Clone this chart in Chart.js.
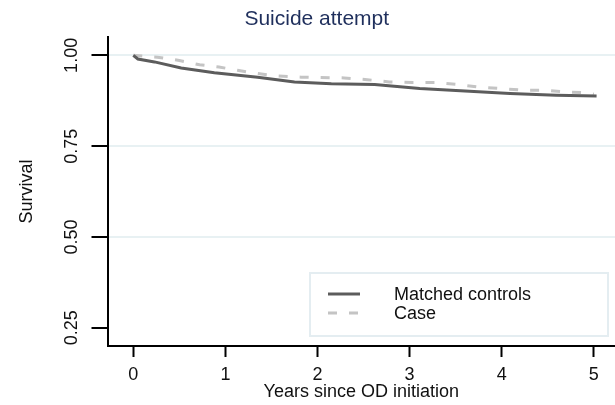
<!DOCTYPE html>
<html>
<head>
<meta charset="utf-8">
<script src="https://cdn.jsdelivr.net/npm/chart.js@4"></script>
<style>
  html, body { margin: 0; padding: 0; background: #fff; }
  #wrap { width: 615px; height: 405px; }
</style>
</head>
<body>
<div id="wrap"><canvas id="km" width="615" height="405"></canvas></div>
<script>
const seriesNames = ["Matched controls", "Case"];

const controlsYears = [0, 0.05, 0.23, 0.52, 0.88, 1.35, 1.75, 2.15, 2.62, 3.11, 3.65, 4.09, 4.59, 5.03];
const controlsSurv = [1.0, 0.99, 0.982, 0.965, 0.952, 0.94, 0.927, 0.922, 0.92, 0.909, 0.901, 0.895, 0.89, 0.888];

const caseYears = [0, 0.26, 0.5, 0.72, 0.93, 1.13, 1.35, 1.57, 1.82, 2.29, 2.54, 2.78, 3.03, 3.29, 3.52, 3.74, 3.98, 4.23, 4.47, 4.7, 4.93, 5.0];
const caseSurv = [1.0, 0.995, 0.986, 0.974, 0.968, 0.959, 0.95, 0.943, 0.94, 0.938, 0.933, 0.927, 0.925, 0.925, 0.92, 0.913, 0.909, 0.904, 0.904, 0.899, 0.897, 0.893];

const xTicks = [0, 1, 2, 3, 4, 5];
const yTicks = [0.25, 0.5, 0.75, 1.0];

const FONT = "'Liberation Sans', Arial, sans-serif";
const toPoints = (xs, ys) => xs.map((x, i) => ({ x: x, y: ys[i] }));

// legend box drawn inside the plot, bottom right
const insideLegend = {
  id: "insideLegend",
  afterDraw(chart) {
    const { ctx, chartArea } = chart;
    const right = chartArea.right - 7;
    const left = right - 298;
    const bottom = chartArea.bottom - 10;
    const top = bottom - 63;
    ctx.save();
    ctx.strokeStyle = "#e4edf1";
    ctx.lineWidth = 2;
    ctx.strokeRect(left, top, right - left, bottom - top);
    ctx.font = "18px " + FONT;
    ctx.fillStyle = "#111";
    ctx.textBaseline = "middle";
    chart.data.datasets.forEach((ds, i) => {
      const y = top + 21 + i * 19;
      ctx.beginPath();
      ctx.strokeStyle = ds.borderColor;
      ctx.lineWidth = ds.borderWidth;
      ctx.setLineDash(ds.borderDash || []);
      ctx.moveTo(left + 18, y);
      ctx.lineTo(left + 50, y);
      ctx.stroke();
      ctx.setLineDash([]);
      ctx.fillText(ds.label, left + 84, y + 1);
    });
    ctx.restore();
  },
};

new Chart(document.getElementById("km"), {
  type: "line",
  data: {
    datasets: [
      {
        label: seriesNames[0],
        data: toPoints(controlsYears, controlsSurv),
        borderColor: "#5c5c5c",
        borderWidth: 3,
        pointRadius: 0,
        tension: 0,
      },
      {
        label: seriesNames[1],
        data: toPoints(caseYears, caseSurv),
        borderColor: "#c4c4c4",
        borderWidth: 3,
        borderDash: [9, 12],
        pointRadius: 0,
        tension: 0,
      },
    ],
  },
  options: {
    responsive: false,
    animation: false,
    layout: { padding: { top: 0, right: 0, left: 18.5, bottom: 4 } },
    plugins: {
      legend: { display: false },
      tooltip: { enabled: false },
      title: {
        display: true,
        text: "Suicide attempt",
        color: "#1f2f5c",
        font: { family: FONT, size: 21, weight: "normal", lineHeight: 1.2 },
        padding: { top: 7, bottom: 5 },
      },
    },
    scales: {
      x: {
        type: "linear",
        min: -0.28,
        max: 5.23,
        afterBuildTicks: (axis) => {
          axis.ticks = xTicks.map((v) => ({ value: v }));
        },
        border: { display: true, color: "#000", width: 2 },
        grid: {
          drawOnChartArea: false,
          drawTicks: true,
          tickLength: 11,
          tickColor: "#000",
          tickWidth: 2,
        },
        ticks: {
          color: "#111",
          font: { family: FONT, size: 18, lineHeight: 1 },
          padding: 9,
          maxRotation: 0,
        },
        title: {
          display: true,
          text: "Years since OD initiation",
          color: "#111",
          font: { family: FONT, size: 18, lineHeight: 1 },
          padding: { top: -10, bottom: 0 },
        },
      },
      y: {
        type: "linear",
        min: 0.2,
        max: 1.05,
        afterBuildTicks: (axis) => {
          axis.ticks = yTicks.map((v) => ({ value: v }));
        },
        border: { display: true, color: "#000", width: 2 },
        grid: {
          drawTicks: true,
          tickLength: 16,
          tickColor: "#000",
          tickWidth: 2,
          lineWidth: 2,
          color: (c) => (c.tick && c.tick.value === 0.25 ? "rgba(0,0,0,0)" : "#e8f1f3"),
        },
        ticks: {
          color: "#111",
          font: { family: FONT, size: 18, lineHeight: 1 },
          minRotation: 90,
          maxRotation: 90,
          crossAlign: "center",
          padding: 1.5,
          callback: (v) => v.toFixed(2),
        },
        title: {
          display: true,
          text: "Survival",
          color: "#111",
          font: { family: FONT, size: 18, lineHeight: 1 },
          padding: { top: 0, bottom: 34 },
        },
      },
    },
  },
  plugins: [insideLegend],
});
</script>
</body>
</html>
